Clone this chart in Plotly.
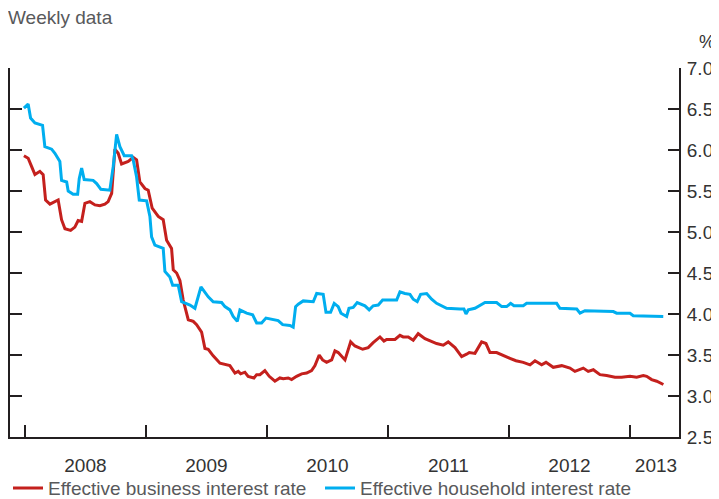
import plotly.graph_objects as go

# Decimal-year positions and values (%)
business_x = [2007.992, 2008.027, 2008.055, 2008.083, 2008.124, 2008.151, 2008.171, 2008.207, 2008.275, 2008.303,
              2008.331, 2008.378, 2008.413, 2008.440, 2008.469, 2008.496, 2008.537, 2008.579, 2008.620, 2008.661,
              2008.688, 2008.717, 2008.744, 2008.771, 2008.799, 2008.854, 2008.895, 2008.923, 2008.950, 2008.992,
              2009.019, 2009.052, 2009.102, 2009.143, 2009.171, 2009.212, 2009.226, 2009.254, 2009.281, 2009.308,
              2009.350, 2009.391, 2009.419, 2009.460, 2009.488, 2009.515, 2009.556, 2009.612, 2009.694, 2009.736,
              2009.763, 2009.783, 2009.818, 2009.845, 2009.893, 2009.915, 2009.942, 2009.983, 2010.019, 2010.066,
              2010.107, 2010.135, 2010.176, 2010.204, 2010.245, 2010.287, 2010.328, 2010.369, 2010.397, 2010.432,
              2010.460, 2010.493, 2010.535, 2010.562, 2010.589, 2010.645, 2010.692, 2010.727, 2010.791, 2010.837,
              2010.878, 2010.934, 2010.967, 2010.989, 2011.058, 2011.099, 2011.126, 2011.168, 2011.209, 2011.250,
              2011.306, 2011.361, 2011.402, 2011.457, 2011.498, 2011.554, 2011.609, 2011.650, 2011.672, 2011.719,
              2011.774, 2011.810, 2011.843, 2011.898, 2011.953, 2012.008, 2012.058, 2012.118, 2012.174, 2012.215,
              2012.270, 2012.306, 2012.366, 2012.436, 2012.504, 2012.545, 2012.614, 2012.655, 2012.697, 2012.752,
              2012.807, 2012.876, 2012.931, 2013.000, 2013.055, 2013.110, 2013.138, 2013.179, 2013.221, 2013.276]
business_rate = [5.93, 5.90, 5.80, 5.70, 5.74, 5.70, 5.39, 5.34, 5.39, 5.15,
                 5.04, 5.02, 5.06, 5.14, 5.13, 5.35, 5.37, 5.33, 5.32, 5.34,
                 5.37, 5.47, 6.01, 5.96, 5.83, 5.86, 5.91, 5.88, 5.61, 5.53,
                 5.51, 5.29, 5.19, 5.15, 4.90, 4.80, 4.54, 4.50, 4.41, 4.17,
                 3.93, 3.91, 3.87, 3.78, 3.58, 3.57, 3.49, 3.40, 3.37, 3.28,
                 3.30, 3.27, 3.29, 3.24, 3.22, 3.26, 3.26, 3.31, 3.24, 3.18,
                 3.22, 3.21, 3.22, 3.20, 3.24, 3.27, 3.28, 3.31, 3.37, 3.50,
                 3.44, 3.41, 3.44, 3.55, 3.53, 3.44, 3.66, 3.61, 3.57, 3.59,
                 3.65, 3.72, 3.67, 3.69, 3.69, 3.74, 3.72, 3.72, 3.68, 3.76,
                 3.70, 3.67, 3.64, 3.62, 3.66, 3.59, 3.48, 3.51, 3.53, 3.52,
                 3.66, 3.64, 3.53, 3.53, 3.49, 3.46, 3.43, 3.41, 3.38, 3.43,
                 3.38, 3.41, 3.35, 3.37, 3.34, 3.30, 3.34, 3.30, 3.32, 3.26,
                 3.25, 3.23, 3.23, 3.24, 3.23, 3.25, 3.24, 3.20, 3.18, 3.14]

household_x = [2007.992, 2008.027, 2008.047, 2008.083, 2008.146, 2008.165, 2008.221, 2008.248, 2008.289, 2008.303,
               2008.345, 2008.358, 2008.399, 2008.436, 2008.449, 2008.469, 2008.490, 2008.564, 2008.593, 2008.628,
               2008.702, 2008.730, 2008.758, 2008.785, 2008.821, 2008.882, 2008.895, 2008.923, 2008.945, 2009.006,
               2009.033, 2009.047, 2009.074, 2009.143, 2009.157, 2009.198, 2009.221, 2009.267, 2009.295, 2009.364,
               2009.405, 2009.455, 2009.515, 2009.556, 2009.626, 2009.653, 2009.694, 2009.721, 2009.755, 2009.777,
               2009.832, 2009.882, 2009.915, 2009.956, 2009.992, 2010.039, 2010.093, 2010.130, 2010.190, 2010.217,
               2010.237, 2010.259, 2010.300, 2010.383, 2010.411, 2010.465, 2010.488, 2010.526, 2010.556, 2010.589,
               2010.612, 2010.659, 2010.678, 2010.713, 2010.746, 2010.810, 2010.845, 2010.878, 2010.920, 2010.956,
               2011.072, 2011.099, 2011.140, 2011.182, 2011.209, 2011.242, 2011.270, 2011.320, 2011.361, 2011.402,
               2011.444, 2011.485, 2011.595, 2011.628, 2011.645, 2011.664, 2011.719, 2011.774, 2011.802, 2011.898,
               2011.940, 2011.981, 2012.014, 2012.041, 2012.118, 2012.146, 2012.394, 2012.421, 2012.560, 2012.587,
               2012.628, 2012.862, 2012.890, 2013.000, 2013.027, 2013.275]
household_rate = [6.51, 6.56, 6.39, 6.33, 6.30, 6.04, 6.01, 5.96, 5.86, 5.63,
                  5.61, 5.50, 5.46, 5.46, 5.65, 5.78, 5.64, 5.63, 5.59, 5.52,
                  5.51, 5.80, 6.19, 6.04, 5.93, 5.93, 5.88, 5.67, 5.39, 5.38,
                  5.19, 4.94, 4.84, 4.80, 4.52, 4.45, 4.35, 4.35, 4.15, 4.11,
                  4.07, 4.33, 4.21, 4.15, 4.14, 4.09, 4.05, 3.97, 3.91, 4.05,
                  4.01, 3.99, 3.89, 3.89, 3.95, 3.94, 3.92, 3.87, 3.86, 3.84,
                  4.09, 4.12, 4.16, 4.15, 4.25, 4.24, 4.02, 4.02, 4.13, 4.09,
                  4.01, 3.97, 4.07, 4.08, 4.14, 4.10, 4.05, 4.10, 4.11, 4.17,
                  4.17, 4.27, 4.25, 4.24, 4.18, 4.15, 4.24, 4.25, 4.18, 4.13,
                  4.10, 4.07, 4.06, 4.06, 4.00, 4.05, 4.07, 4.11, 4.14, 4.14,
                  4.09, 4.09, 4.13, 4.10, 4.10, 4.13, 4.13, 4.07, 4.06, 4.01,
                  4.04, 4.03, 4.01, 4.01, 3.98, 3.97]

year_ticks = [2008, 2009, 2010, 2011, 2012, 2013]
year_label_pos = [2008.5, 2009.5, 2010.5, 2011.5, 2012.5, 2013.215]
year_labels = ["2008", "2009", "2010", "2011", "2012", "2013"]
y_ticks = [2.5, 3.0, 3.5, 4.0, 4.5, 5.0, 5.5, 6.0, 6.5, 7.0]

RED = "#c4201d"
BLUE = "#00aeef"
AXIS = "#231f20"
FONT = "Liberation Sans, Arial, sans-serif"

fig = go.Figure()
fig.add_trace(go.Scatter(x=business_x, y=business_rate, mode="lines",
                         name="Effective business interest rate",
                         line=dict(color=RED, width=3), xaxis="x", yaxis="y"))
fig.add_trace(go.Scatter(x=household_x, y=household_rate, mode="lines",
                         name="Effective household interest rate",
                         line=dict(color=BLUE, width=3), xaxis="x2", yaxis="y2"))

xr = [2007.877, 2013.405]
yr = [2.5, 7.0]
fig.update_layout(
    width=711, height=491,
    margin=dict(l=2, r=40, t=60, b=62, autoexpand=False),
    paper_bgcolor="white", plot_bgcolor="white",
    font=dict(family=FONT, size=19, color="#333333"),
    title=dict(text="Weekly data", x=0.0, xanchor="left", xref="container",
               y=0.98, yanchor="middle", yref="container",
               font=dict(family=FONT, size=19, color="#58595b")),
    xaxis=dict(range=xr, tickmode="array", tickvals=year_ticks, ticks="inside",
               ticklen=12, tickwidth=2, tickcolor=AXIS, showticklabels=False,
               showline=True, linewidth=2, linecolor=AXIS, showgrid=False, zeroline=False),
    xaxis2=dict(range=xr, overlaying="x", anchor="y", side="bottom", tickmode="array",
                tickvals=year_label_pos, ticktext=year_labels, ticks="", showline=False,
                showgrid=False, zeroline=False, ticklabelstandoff=15,
                tickfont=dict(family=FONT, size=19, color="#333333")),
    yaxis=dict(range=yr, tickmode="array", tickvals=y_ticks, ticks="inside", ticklen=12,
               tickwidth=2, tickcolor=AXIS, showticklabels=False, showline=True,
               linewidth=2, linecolor=AXIS, showgrid=False, zeroline=False),
    yaxis2=dict(range=yr, overlaying="y", anchor="x", side="right", tickmode="array",
                tickvals=y_ticks, tickformat=".1f", ticks="inside", ticklen=11, tickwidth=2,
                tickcolor=AXIS, showline=True, linewidth=2, linecolor=AXIS,
                showgrid=False, zeroline=False, ticklabelstandoff=2,
                tickfont=dict(family=FONT, size=19, color="#333333")),
    legend=dict(orientation="h", x=0.0, xref="container", xanchor="left",
                y=0.022, yref="container", yanchor="middle",
                font=dict(family=FONT, size=19, color="#58595b"),
                bgcolor="rgba(0,0,0,0)", itemwidth=30,
                entrywidth=267, entrywidthmode="pixels"),
    showlegend=True,
    annotations=[dict(text="%", xref="paper", yref="paper", x=1.042, y=1.07,
                      xanchor="center", yanchor="middle", showarrow=False,
                      font=dict(family=FONT, size=18, color="#333333"))],
)

fig.write_html("out.html")
